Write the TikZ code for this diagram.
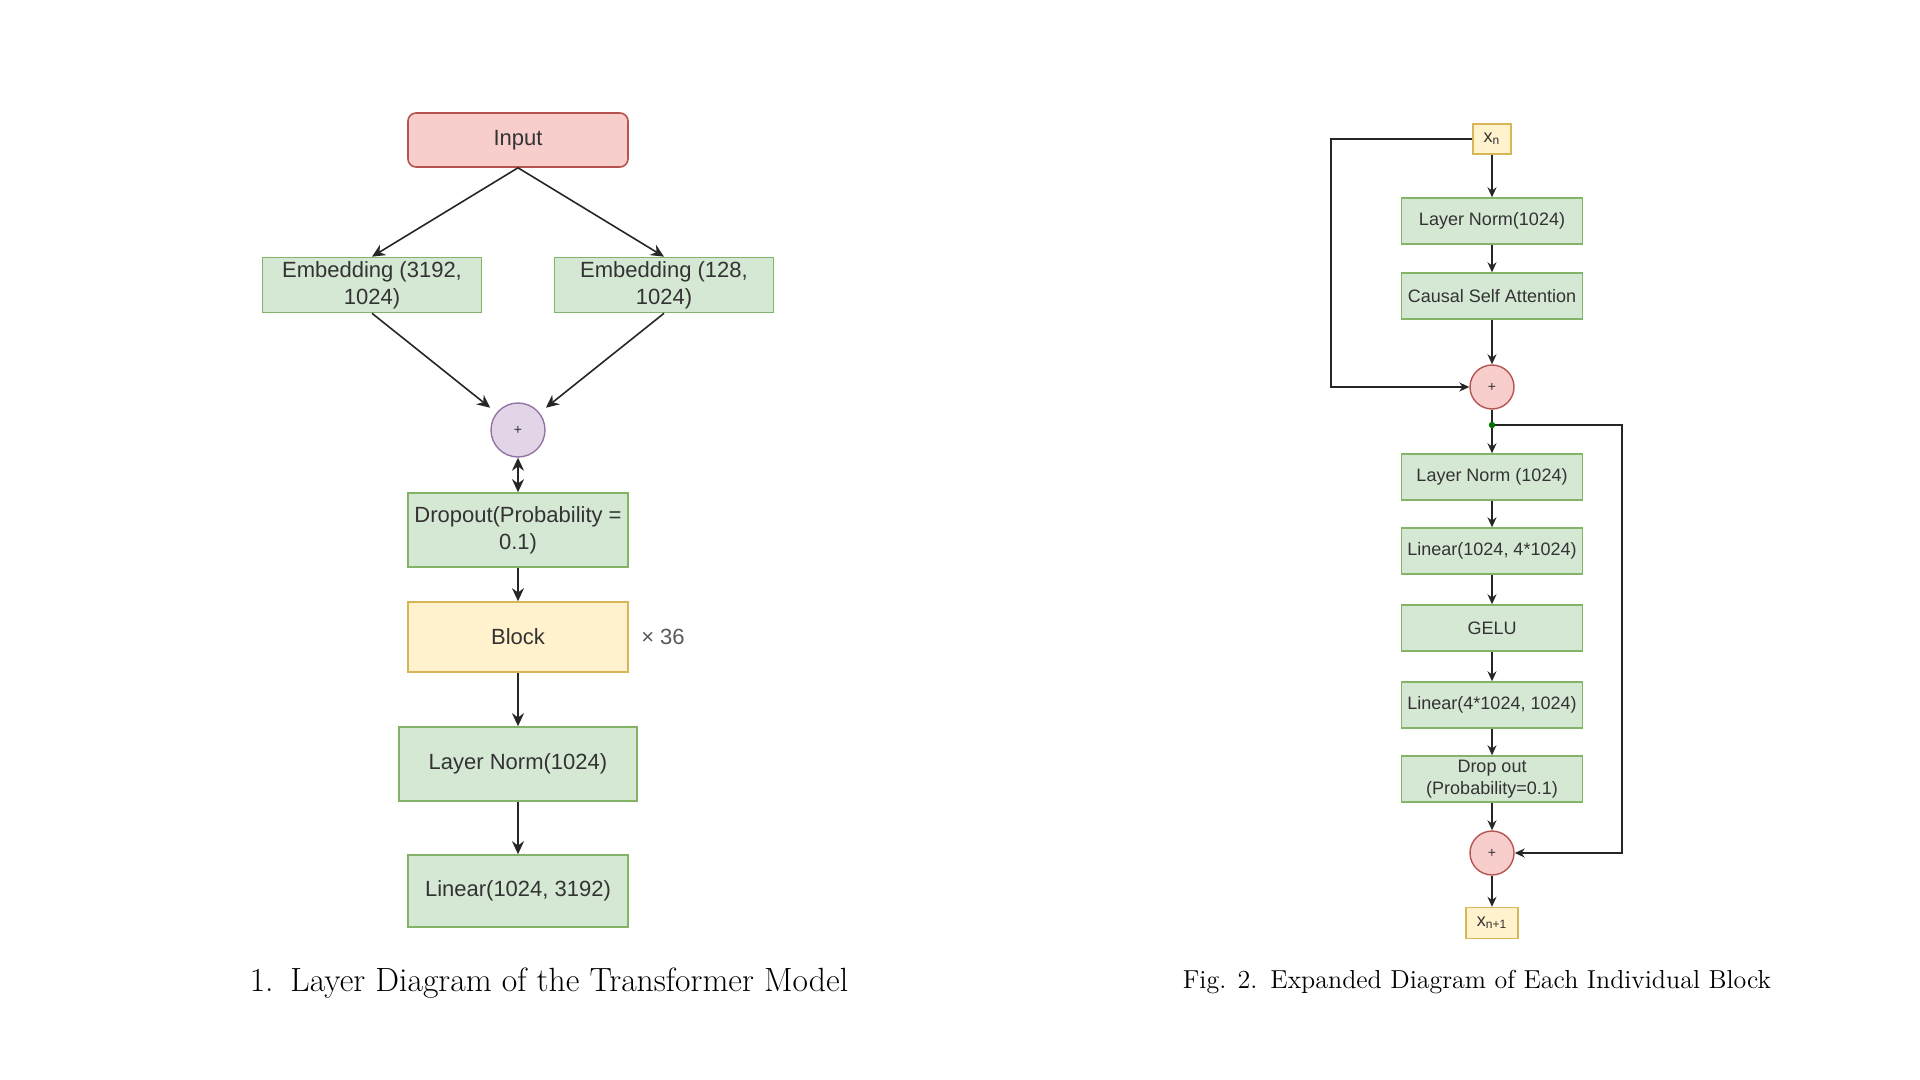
\documentclass[tikz,border=0pt]{standalone}
\usepackage{fontspec}
\usepackage{tikz}
\usetikzlibrary{arrows.meta}
\newfontfamily\drawfont{Liberation Sans}

\definecolor{redfill}{HTML}{F8CECC}
\definecolor{redline}{HTML}{B85450}
\definecolor{greenfill}{HTML}{D5E8D4}
\definecolor{greenline}{HTML}{82B366}
\definecolor{yellowfill}{HTML}{FFF2CC}
\definecolor{yellowline}{HTML}{D6B656}
\definecolor{purplefill}{HTML}{E1D5E7}
\definecolor{purpleline}{HTML}{9673A6}
\definecolor{textgray}{HTML}{333333}

\tikzset{
  bigbox/.style={draw=greenline, fill=greenfill, line width=0.8pt, inner sep=0pt,
    align=center, text=textgray, font=\drawfont\fontsize{11}{13.5}\selectfont},
  smallbox/.style={draw=greenline, fill=greenfill, line width=0.7pt, inner sep=0pt,
    align=center, text=textgray, minimum width=90.5pt, minimum height=23pt,
    font=\drawfont\fontsize{9}{11}\selectfont},
  plusnode/.style={circle, draw=redline, fill=redfill, line width=0.7pt, inner sep=0pt,
    minimum size=22pt, text=textgray, font=\drawfont\fontsize{7}{8}\selectfont},
  arrow/.style={draw=black!85, line width=0.75pt, -{Stealth[length=5pt,width=4.5pt]}},
  bigarrow/.style={draw=black!85, line width=0.8pt, -{Stealth[length=6.5pt,width=6pt]}}
}

\begin{document}
\begin{tikzpicture}[x=0.5pt,y=-0.5pt]
\useasboundingbox (0,0) rectangle (1920,1080);

% Left: whole model
\node[bigbox, draw=redline, fill=redfill, rounded corners=4pt, minimum width=110pt, minimum height=27pt] (input) at (518,140) {Input};
\node[bigbox, minimum width=109.5pt, minimum height=27.5pt] (embtok) at (372,285) {Embedding (3192,\\1024)};
\node[bigbox, minimum width=109.5pt, minimum height=27.5pt] (embpos) at (664,285) {Embedding (128,\\1024)};
\node[plusnode, draw=purpleline, fill=purplefill, minimum size=27pt] (sumA) at (518,430) {+};
\node[bigbox, minimum width=110pt, minimum height=37pt] (dropA) at (518,530) {Dropout(Probability =\\0.1)};
\node[bigbox, draw=yellowline, fill=yellowfill, minimum width=110pt, minimum height=35pt] (block) at (518,637) {Block};
\node[text=black!65, font=\drawfont\fontsize{11}{13}\selectfont] (times) at (663,637) {× 36};
\node[bigbox, minimum width=119pt, minimum height=37pt] (lnfinal) at (518,764) {Layer Norm(1024)};
\node[bigbox, minimum width=110pt, minimum height=36pt] (head) at (518,891) {Linear(1024, 3192)};

\draw[bigarrow] (input.south) -- (embtok.north);
\draw[bigarrow] (input.south) -- (embpos.north);
\draw[bigarrow, shorten >=4pt] (embtok.south) -- (sumA);
\draw[bigarrow, shorten >=4pt] (embpos.south) -- (sumA);
\draw[bigarrow, {Stealth[length=6.5pt,width=6pt]}-{Stealth[length=6.5pt,width=6pt]}] (sumA.south) -- (dropA.north);
\draw[bigarrow] (dropA) -- (block);
\draw[bigarrow] (block) -- (lnfinal);
\draw[bigarrow] (lnfinal) -- (head);

\node[font=\fontsize{16.8}{19}\selectfont] (capA) at (549,983) {1.\enspace Layer Diagram of the Transformer Model};

% Right: one block
\node[smallbox, draw=yellowline, fill=yellowfill, minimum width=19pt, minimum height=15pt] (xin) at (1492,139) {x\textsubscript{n}};
\node[smallbox] (ln1) at (1492,221) {Layer Norm(1024)};
\node[smallbox] (attn) at (1492,296) {Causal Self Attention};
\node[plusnode] (sum1) at (1492,387) {+};
\node[smallbox] (ln2) at (1492,477) {Layer Norm (1024)};
\node[smallbox] (fc1) at (1492,551) {Linear(1024, 4*1024)};
\node[smallbox] (gelu) at (1492,628) {GELU};
\node[smallbox] (fc2) at (1492,705) {Linear(4*1024, 1024)};
\node[smallbox] (dropB) at (1492,779) {Drop out\\(Probability=0.1)};
\node[plusnode] (sum2) at (1492,853) {+};
\node[smallbox, draw=yellowline, fill=yellowfill, minimum width=26pt, minimum height=15.5pt] (xout) at (1492,923) {x\textsubscript{n+1}};

\coordinate (skipL) at (1331,139);
\coordinate (split) at (1492,425);
\coordinate (skipR) at (1622,425);

\draw[arrow] (xin) -- (ln1);
\draw[arrow] (ln1) -- (attn);
\draw[arrow] (attn) -- (sum1);
\draw[arrow] (sum1) -- (ln2);
\draw[arrow] (ln2) -- (fc1);
\draw[arrow] (fc1) -- (gelu);
\draw[arrow] (gelu) -- (fc2);
\draw[arrow] (fc2) -- (dropB);
\draw[arrow] (dropB) -- (sum2);
\draw[arrow] (sum2) -- (xout);

% residual paths
\draw[arrow] (xin.west) -- (skipL) |- (sum1.west);
\draw[arrow] (split) -- (skipR) |- (sum2.east);
\fill[green!45!black] (split) circle (1.6pt);

\node[font=\fontsize{13}{16}\selectfont] (capB) at (1477,982) {Fig. 2.\enspace Expanded Diagram of Each Individual Block};

\end{tikzpicture}
\end{document}
